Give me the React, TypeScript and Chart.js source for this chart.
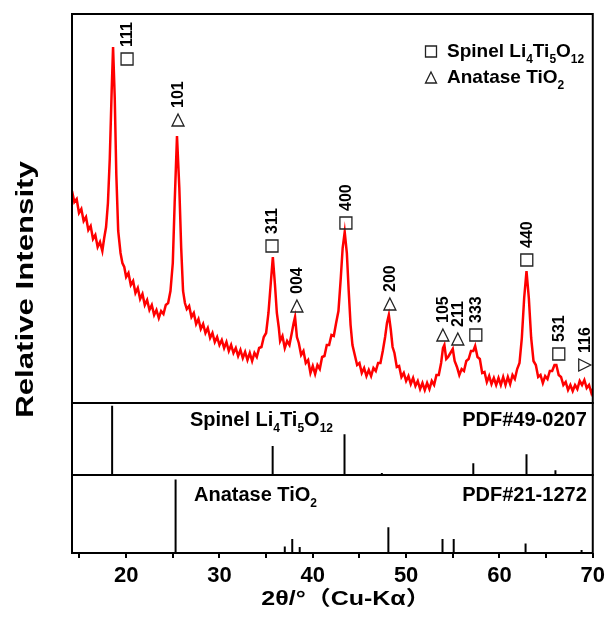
import React, { useEffect, useRef } from 'react';
import { Chart, registerables } from 'chart.js';

Chart.register(...registerables);

// Measured XRD pattern (2θ in degrees, relative intensity)
const twoTheta = [
  14.2, 14.45, 14.7, 14.95, 15.2, 15.45, 15.7, 15.95, 16.2, 16.45, 16.7, 16.95, 17.2, 17.45, 17.65, 17.85,
  18.05, 18.25, 18.45, 18.6, 18.78, 18.95, 19.15, 19.4, 19.6, 19.8, 20.0, 20.25, 20.5, 20.75, 21.0, 21.25,
  21.5, 21.75, 22.0, 22.25, 22.5, 22.75, 23.0, 23.25, 23.5, 23.75, 24.0, 24.25, 24.5, 24.75, 25.0, 25.2,
  25.45, 25.7, 25.9, 26.1, 26.3, 26.5, 26.75, 27.0, 27.25, 27.5, 27.75, 28.0, 28.25, 28.5, 28.75, 29.0,
  29.25, 29.5, 29.75, 30.0, 30.25, 30.5, 30.75, 31.0, 31.25, 31.5, 31.75, 32.0, 32.25, 32.5, 32.75, 33.0,
  33.25, 33.5, 33.75, 34.0, 34.25, 34.5, 34.75, 35.0, 35.25, 35.5, 35.72, 35.95, 36.15, 36.35, 36.5, 36.75,
  37.0, 37.25, 37.5, 37.75, 37.95, 38.1, 38.3, 38.5, 38.75, 39.0, 39.25, 39.5, 39.75, 40.0, 40.25, 40.5,
  40.75, 41.0, 41.25, 41.5, 41.75, 42.0, 42.25, 42.5, 42.75, 43.0, 43.2, 43.42, 43.65, 43.85, 44.05, 44.25,
  44.5, 44.75, 45.0, 45.25, 45.5, 45.75, 46.0, 46.25, 46.5, 46.75, 47.0, 47.25, 47.5, 47.75, 47.95, 48.15,
  48.35, 48.55, 48.75, 49.0, 49.25, 49.5, 49.75, 50.0, 50.25, 50.5, 50.75, 51.0, 51.25, 51.5, 51.75, 52.0,
  52.25, 52.5, 52.75, 53.0, 53.25, 53.5, 53.75, 53.95, 54.1, 54.3, 54.5, 54.75, 55.0, 55.2, 55.45, 55.7,
  55.95, 56.2, 56.45, 56.7, 56.95, 57.2, 57.4, 57.65, 57.9, 58.15, 58.4, 58.65, 58.9, 59.15, 59.4, 59.65,
  59.9, 60.15, 60.4, 60.65, 60.9, 61.15, 61.4, 61.65, 61.9, 62.15, 62.4, 62.65, 62.9, 63.15, 63.4, 63.65,
  63.9, 64.15, 64.4, 64.65, 64.9, 65.15, 65.4, 65.65, 65.9, 66.1, 66.35, 66.6, 66.85, 67.1, 67.35, 67.6,
  67.85, 68.1, 68.35, 68.6, 68.85, 69.1, 69.35, 69.6, 69.85, 70.0,
];
const intensity = [
  212, 201, 204, 190, 194, 182, 186, 173, 177, 164, 168, 156, 161, 152, 165, 176,
  200, 245, 312, 356, 305, 228, 172, 150, 140, 136, 126, 130, 118, 122, 110, 115,
  104, 109, 98, 103, 93, 98, 88, 93, 85, 92, 89, 98, 100, 112, 140, 200,
  267, 215, 155, 112, 100, 94, 97, 86, 90, 79, 84, 74, 79, 70, 75, 65,
  70, 61, 66, 58, 63, 55, 61, 52, 58, 50, 55, 47, 53, 45, 51, 43,
  50, 42, 50, 46, 55, 56, 66, 70, 90, 120, 146, 118, 90, 76, 62, 67,
  55, 62, 58, 70, 80, 86, 66, 60, 48, 52, 40, 43, 30, 37, 29, 38,
  34, 46, 47, 58, 58, 68, 67, 80, 92, 125, 155, 171, 150, 112, 78, 58,
  48, 38, 40, 30, 35, 27, 33, 27, 35, 32, 40, 40, 52, 66, 80, 88,
  74, 56, 50, 36, 37, 26, 30, 22, 27, 19, 25, 17, 22, 14, 20, 13,
  20, 14, 22, 18, 28, 28, 40, 55, 58, 44, 46, 50, 54, 42, 36, 28,
  34, 32, 42, 44, 52, 52, 57, 46, 44, 30, 31, 21, 27, 19, 25, 18,
  25, 18, 26, 18, 26, 19, 28, 24, 34, 40, 65, 105, 132, 105, 65, 42,
  38, 26, 28, 20, 27, 24, 32, 32, 38, 38, 28, 26, 18, 21, 13, 18,
  12, 18, 14, 22, 18, 23, 15, 18, 10, 14,
];

// Reference patterns (stick positions in 2θ, relative intensity)
const spinelPos = [18.5, 35.7, 43.4, 47.4, 57.2, 62.9, 66.0];
const spinelInt = [100, 42, 59, 3, 17, 30, 7];
const anatasePos = [25.3, 37.0, 37.8, 38.6, 48.1, 53.9, 55.1, 62.8, 68.8];
const anataseInt = [100, 9, 19, 8, 35, 19, 19, 13, 4];

// Peak annotations: anchor (2θ, intensity), hkl text, phase symbol
const peakX = [20.1, 25.56, 35.63, 38.3, 43.55, 48.26, 53.94, 55.54, 57.47, 62.93, 66.36, 69.14];
const peakY = [338, 277, 151, 91, 174, 93, 62, 58, 62, 137, 43, 32];
const peakText = ['111', '101', '311', '004', '400', '200', '105', '211', '333', '440', '531', '116'];
const peakPhase = ['s', 't', 's', 't', 's', 't', 't', 't', 's', 's', 's', 'r'];

const xTickValues = [15, 20, 25, 30, 35, 40, 45, 50, 55, 60, 65, 70];

const FAM = '"Liberation Sans", Arial, Helvetica, "Noto Sans CJK SC", sans-serif';

type Run = [string, boolean];

function drawRuns(ctx: CanvasRenderingContext2D, runs: Run[], x: number, y: number, size: number, align: 'left' | 'right') {
  const subSize = Math.round(size * 0.62);
  const widths = runs.map(([t, sub]) => {
    ctx.font = `bold ${sub ? subSize : size}px ${FAM}`;
    return ctx.measureText(t).width;
  });
  const total = widths.reduce((a, b) => a + b, 0);
  let cx = align === 'right' ? x - total : x;
  ctx.textAlign = 'left';
  ctx.textBaseline = 'alphabetic';
  runs.forEach(([t, sub], i) => {
    ctx.font = `bold ${sub ? subSize : size}px ${FAM}`;
    ctx.fillText(t, cx, sub ? y + size * 0.3 : y);
    cx += widths[i];
  });
}

function drawSymbol(ctx: CanvasRenderingContext2D, kind: string, cx: number, bottom: number, s: number) {
  ctx.beginPath();
  if (kind === 's') {
    ctx.rect(cx - s / 2, bottom - s, s, s);
  } else if (kind === 't') {
    ctx.moveTo(cx, bottom - s);
    ctx.lineTo(cx + s / 2, bottom);
    ctx.lineTo(cx - s / 2, bottom);
    ctx.closePath();
  } else {
    ctx.moveTo(cx - s / 2, bottom - s);
    ctx.lineTo(cx + s / 2, bottom - s / 2);
    ctx.lineTo(cx - s / 2, bottom);
    ctx.closePath();
  }
  ctx.stroke();
}

const overlayPlugin = {
  id: 'xrdOverlay',
  afterDatasetsDraw(chart: any) {
    const { ctx, chartArea, scales } = chart;
    const sx = scales.x;
    const sy = scales.y;
    ctx.save();
    // panel frames
    ctx.strokeStyle = '#000';
    ctx.lineWidth = 2;
    [scales.y, scales.ys, scales.ya].forEach((s: any) => {
      ctx.strokeRect(chartArea.left, s.top, chartArea.right - chartArea.left, s.bottom - s.top);
    });

    // peak labels
    ctx.fillStyle = '#000';
    ctx.strokeStyle = '#222';
    ctx.lineWidth = 1.3;
    peakX.forEach((v, i) => {
      const cx = sx.getPixelForValue(v);
      const by = sy.getPixelForValue(peakY[i]);
      drawSymbol(ctx, peakPhase[i], cx, by, 12);
      ctx.save();
      ctx.translate(cx + 1, by - 18);
      ctx.rotate(-Math.PI / 2);
      ctx.font = `bold 16px ${FAM}`;
      ctx.textAlign = 'left';
      ctx.textBaseline = 'middle';
      ctx.fillText(peakText[i], 0, 0);
      ctx.restore();
    });

    // legend (top right)
    drawSymbol(ctx, 's', 431, 57, 11);
    drawRuns(ctx, [['Spinel Li', false], ['4', true], ['Ti', false], ['5', true], ['O', false], ['12', true]], 447, 57, 19, 'left');
    drawSymbol(ctx, 't', 431, 83, 11);
    drawRuns(ctx, [['Anatase TiO', false], ['2', true]], 447, 83, 19, 'left');

    // reference panel captions
    const ys = scales.ys;
    const ya = scales.ya;
    drawRuns(ctx, [['Spinel Li', false], ['4', true], ['Ti', false], ['5', true], ['O', false], ['12', true]], 190, ys.top + 23, 20, 'left');
    drawRuns(ctx, [['PDF#49-0207', false]], chartArea.right - 6, ys.top + 23, 20, 'right');
    drawRuns(ctx, [['Anatase TiO', false], ['2', true]], 194, ya.top + 26, 20, 'left');
    drawRuns(ctx, [['PDF#21-1272', false]], chartArea.right - 6, ya.top + 26, 20, 'right');

    // axis titles
    ctx.save();
    ctx.translate(33, (chartArea.top + chartArea.bottom) / 2 + 6);
    ctx.rotate(-Math.PI / 2);
    ctx.scale(1.3, 1);
    ctx.font = `bold 24px ${FAM}`;
    ctx.textAlign = 'center';
    ctx.textBaseline = 'alphabetic';
    ctx.fillText('Relative Intensity', 0, 0);
    ctx.restore();

    ctx.save();
    ctx.translate(346, 605);
    ctx.scale(1.25, 1);
    ctx.font = `bold 20px ${FAM}`;
    ctx.textAlign = 'center';
    ctx.textBaseline = 'alphabetic';
    ctx.fillText('2θ/°（Cu-Kα）', 0, 0);
    ctx.restore();

    ctx.restore();
  },
};

function sticks(pos: number[], vals: number[]) {
  const out: { x: number; y: number | null }[] = [];
  pos.forEach((p, i) => {
    out.push({ x: p, y: 0 }, { x: p, y: vals[i] }, { x: p, y: null });
  });
  return out;
}

export default function App() {
  const ref = useRef<HTMLCanvasElement | null>(null);

  useEffect(() => {
    if (!ref.current) return;
    const chart = new Chart(ref.current, {
      type: 'line',
      data: {
        datasets: [
          {
            label: 'XRD',
            data: twoTheta.map((t, i) => ({ x: t, y: intensity[i] })),
            yAxisID: 'y',
            borderColor: '#ff0000',
            borderWidth: 2.5,
            pointRadius: 0,
            tension: 0,
          },
          {
            label: 'Spinel Li4Ti5O12 PDF#49-0207',
            data: sticks(spinelPos, spinelInt),
            yAxisID: 'ys',
            borderColor: '#000',
            borderWidth: 2,
            pointRadius: 0,
            spanGaps: false,
          },
          {
            label: 'Anatase TiO2 PDF#21-1272',
            data: sticks(anatasePos, anataseInt),
            yAxisID: 'ya',
            borderColor: '#000',
            borderWidth: 2,
            pointRadius: 0,
            spanGaps: false,
          },
        ],
      },
      options: {
        responsive: false,
        animation: false,
        devicePixelRatio: 1,
        layout: { padding: { left: 72, right: 16, top: 14, bottom: 0 } },
        plugins: { legend: { display: false }, tooltip: { enabled: false } },
        scales: {
          x: {
            type: 'linear',
            min: 14.2,
            max: 70,
            afterBuildTicks: (scale: any) => {
              scale.ticks = xTickValues.map((v) => ({ value: v }));
            },
            afterFit: (scale: any) => {
              scale.height = 73;
            },
            border: { display: false },
            grid: { drawOnChartArea: false, drawTicks: true, tickLength: 5, color: '#000', lineWidth: 2 },
            ticks: {
              color: '#000',
              padding: 5,
              maxRotation: 0,
              autoSkip: false,
              font: { family: FAM, size: 22, weight: 'bold' },
              callback: (v: any) => (Number(v) % 10 === 0 ? String(v) : ''),
            },
          },
          y: {
            type: 'linear',
            position: 'left',
            stack: 'panels',
            stackWeight: 389,
            weight: 3,
            min: 0,
            max: 389,
            afterFit: (scale: any) => {
              scale.width = 0;
            },
            border: { display: false },
            grid: { display: false },
            ticks: { display: false },
          },
          ys: {
            type: 'linear',
            position: 'left',
            stack: 'panels',
            stackWeight: 72,
            weight: 2,
            min: 0,
            max: 104,
            afterFit: (scale: any) => {
              scale.width = 0;
            },
            border: { display: false },
            grid: { display: false },
            ticks: { display: false },
          },
          ya: {
            type: 'linear',
            position: 'left',
            stack: 'panels',
            stackWeight: 78,
            weight: 1,
            min: 0,
            max: 106,
            afterFit: (scale: any) => {
              scale.width = 0;
            },
            border: { display: false },
            grid: { display: false },
            ticks: { display: false },
          },
        },
      } as any,
      plugins: [overlayPlugin],
    });
    return () => chart.destroy();
  }, []);

  return (
    <div style={{ position: 'absolute', left: 0, top: 0, width: 610, height: 626, background: '#fff' }}>
      <canvas ref={ref} width={610} height={626} style={{ width: 610, height: 626 }} />
    </div>
  );
}
